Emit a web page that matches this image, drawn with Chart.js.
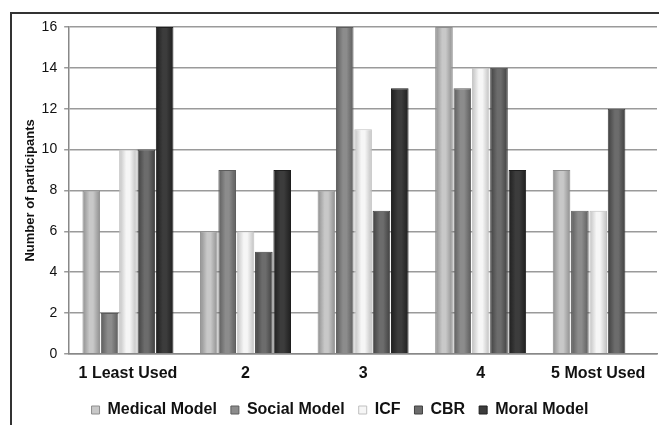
<!DOCTYPE html>
<html>
<head>
<meta charset="utf-8">
<script src="https://cdn.jsdelivr.net/npm/chart.js@4"></script>
<style>
  body { margin: 0; background: #fff; overflow: hidden; }
  #frame { position: absolute; left: 10px; top: 12px; width: 660px; height: 420px;
           border-top: 2px solid #333; border-left: 2px solid #333; }
  #wrap { position: absolute; left: 0; top: 0; width: 659px; height: 430px; }
</style>
</head>
<body>
<div id="frame"></div>
<div id="wrap"><canvas id="chart"></canvas></div>
<script>
const categories = ["1 Least Used", "2", "3", "4", "5 Most Used"];
const medicalModel = [8, 6, 8, 16, 9];
const socialModel = [2, 9, 16, 13, 7];
const icf = [10, 6, 11, 14, 7];
const cbr = [10, 5, 7, 14, 12];
const moralModel = [16, 9, 13, 9, 0];
const yTicks = [0, 2, 4, 6, 8, 10, 12, 14, 16];

// [edge, middle] shades for the rounded look of each series
const shades = {
  "Medical Model": ["#8e8e8e", "#c8c8c8"],
  "Social Model": ["#5c5c5c", "#8c8c8c"],
  "ICF": ["#c0c0c0", "#f6f6f6"],
  "CBR": ["#404040", "#6c6c6c"],
  "Moral Model": ["#1e1e1e", "#3c3c3c"],
};

function series(label, data) {
  return {
    label: label,
    data: data,
    backgroundColor: shades[label][1],
    borderColor: shades[label][0],
    borderWidth: 1,
    borderSkipped: "bottom",
  };
}

// paint each bar with a left-to-right gradient so it reads like a cylinder
const cylinder = {
  id: "cylinder",
  beforeDatasetsDraw(chart) {
    const ctx = chart.ctx;
    chart.data.datasets.forEach((ds, i) => {
      const meta = chart.getDatasetMeta(i);
      const [edge, mid] = shades[ds.label];
      meta.data.forEach((el) => {
        const x0 = el.x - el.width / 2;
        const g = ctx.createLinearGradient(x0, 0, x0 + el.width, 0);
        g.addColorStop(0, edge);
        g.addColorStop(0.4, mid);
        g.addColorStop(0.6, mid);
        g.addColorStop(1, edge);
        el.options = Object.assign({}, el.options, { backgroundColor: g });
      });
    });
  },
};

new Chart(document.getElementById("chart"), {
  type: "bar",
  data: {
    labels: categories,
    datasets: [
      series("Medical Model", medicalModel),
      series("Social Model", socialModel),
      series("ICF", icf),
      series("CBR", cbr),
      series("Moral Model", moralModel),
    ],
  },
  plugins: [cylinder],
  options: {
    responsive: true,
    maintainAspectRatio: false,
    animation: false,
    layout: { padding: { left: 23, right: 2, top: 27, bottom: 2 } },
    datasets: { bar: { barPercentage: 0.96, categoryPercentage: 0.78 } },
    scales: {
      x: {
        grid: { display: false, drawOnChartArea: false, tickLength: 5 },
        border: { color: "#888", width: 1.5 },
        ticks: { color: "#111", font: { family: "Liberation Sans", size: 16, weight: "bold" }, padding: 5 },
      },
      y: {
        min: 0,
        max: 16,
        afterBuildTicks: (axis) => { axis.ticks = yTicks.map((v) => ({ value: v })); },
        afterFit: (scale) => { scale.width -= 6; },
        grid: { color: "#9a9a9a", lineWidth: 1.5, tickLength: 5 },
        border: { color: "#888", width: 1.5 },
        ticks: { color: "#111", font: { family: "Liberation Sans", size: 14 }, padding: 7 },
        title: {
          display: true,
          text: "Number of participants",
          color: "#111",
          font: { family: "Liberation Sans", size: 13, weight: "bold" },
          padding: { top: 0, bottom: 2 },
        },
      },
    },
    plugins: {
      legend: {
        display: true,
        position: "bottom",
        labels: {
          color: "#111",
          boxWidth: 8,
          boxHeight: 8,
          padding: 14,
          font: { family: "Liberation Sans", size: 16, weight: "bold" },
        },
      },
      tooltip: { enabled: false },
    },
  },
});
</script>
</body>
</html>
